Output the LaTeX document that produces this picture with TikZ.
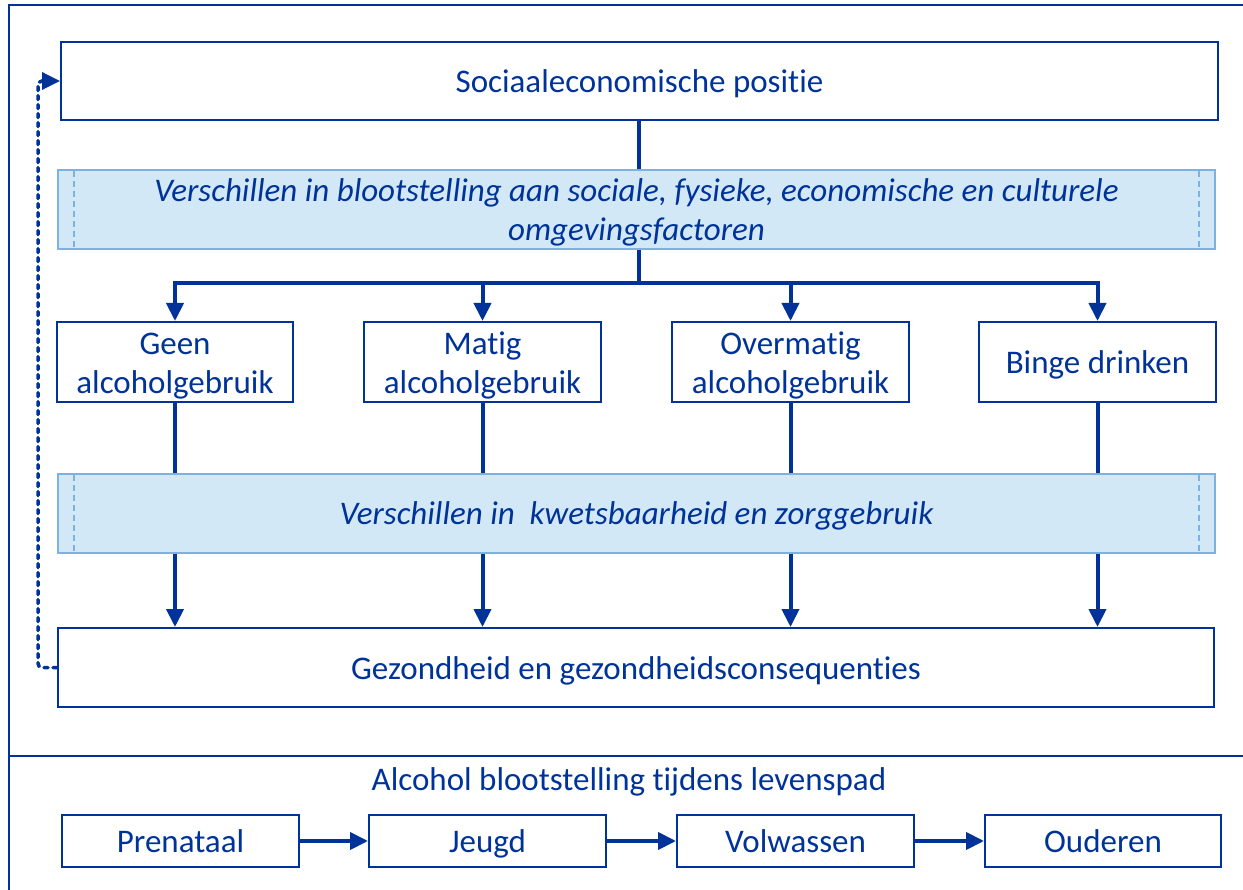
\documentclass[tikz,border=0pt]{standalone}
\usepackage{fontspec}
\setmainfont{Carlito}[Ligatures=NoCommon]
\usetikzlibrary{arrows.meta}
\definecolor{mainblue}{RGB}{0,51,153}
\definecolor{bandfill}{RGB}{210,232,246}
\definecolor{bandline}{RGB}{125,177,224}
\newcommand{\tstrut}{\rule{0pt}{29pt}}
\newcommand{\sstrut}{\rule[-6pt]{0pt}{35pt}}
\begin{document}
\begin{tikzpicture}[x=1pt,y=-1pt,
  every node/.style={font=\fontsize{33}{39}\selectfont, text=mainblue, inner sep=0pt},
  boxstyle/.style={draw=mainblue, line width=2pt, fill=white, align=center},
  bandstyle/.style={draw=bandline, line width=1.5pt, fill=bandfill, align=center, font=\fontsize{33}{39}\selectfont\itshape, minimum width=1157pt, minimum height=79pt},
  conn/.style={draw=mainblue, line width=4pt},
  arr/.style={conn, -{Triangle[length=18pt,width=17pt]}},
  inner dash/.style={draw=bandline, line width=1.5pt, dash pattern=on 6pt off 4pt},
  feedback/.style={draw=mainblue, line width=3.5pt, dash pattern=on 4pt off 5pt, line cap=round, rounded corners=4pt, -{Triangle[length=18pt,width=17pt]}}
]
\useasboundingbox (0,0) rectangle (1243,890);
\begin{scope}
\clip (0,0) rectangle (1243,890);
\draw[mainblue, line width=2pt] (9,900) -- (9,5) -- (1260,5);
\draw[mainblue, line width=2pt] (9,756) -- (1260,756);
\end{scope}

% top box
\node[boxstyle, minimum width=1157pt, minimum height=78pt] (top) at (639.5,81) {\sstrut Sociaaleconomische positie};

% band 1
\node[bandstyle] (band1) at (636.5,209.5) {\tstrut Verschillen in blootstelling aan sociale, fysieke, economische en culturele\\omgevingsfactoren};
\draw[inner dash] (74,171) -- (74,248);
\draw[inner dash] (1199,171) -- (1199,248);

% behaviour boxes
\node[boxstyle, minimum width=236pt, minimum height=80pt] (b1) at (175,362) {\tstrut Geen\\alcoholgebruik};
\node[boxstyle, minimum width=237pt, minimum height=80pt] (b2) at (482.5,362) {\tstrut Matig\\alcoholgebruik};
\node[boxstyle, minimum width=237pt, minimum height=80pt] (b3) at (790.5,362) {\tstrut Overmatig\\alcoholgebruik};
\node[boxstyle, minimum width=237pt, minimum height=80pt] (b4) at (1097.5,362) {\sstrut Binge drinken};

% band 2
\node[bandstyle] (band2) at (636.5,513.5) {\sstrut Verschillen in\ \ kwetsbaarheid en zorggebruik};
\draw[inner dash] (74,475) -- (74,552);
\draw[inner dash] (1199,475) -- (1199,552);

% bottom box
\node[boxstyle, minimum width=1156pt, minimum height=79pt] (bottom) at (636,667.5) {\sstrut Gezondheid en gezondheidsconsequenties};

% connectors top
\coordinate (bar) at (639,283);
\draw[conn] (top.south -| bar) -- (band1.north -| bar);
\draw[conn] (band1.south -| bar) -- (bar);
\foreach \b in {b1,b2,b3,b4} {
  \draw[arr] (bar) -| (\b.north);
  \draw[conn] (\b.south) -- (\b.south |- band2.north);
  \draw[arr] (\b.south |- band2.south) -- (\b.south |- bottom.north);
}

% feedback dotted
\coordinate (fb1) at (38,667.5);
\coordinate (fb2) at (38,81);
\draw[feedback] (bottom.west) -- (fb1) -- (fb2) -- (top.west);

% life course
\node (lifetitle) at (629,779) {\sstrut Alcohol blootstelling tijdens levenspad};
\node[boxstyle, minimum width=237pt, minimum height=52pt] (p1) at (180.5,841) {\sstrut Prenataal};
\node[boxstyle, minimum width=237pt, minimum height=52pt] (p2) at (487.5,841) {\sstrut Jeugd};
\node[boxstyle, minimum width=237pt, minimum height=52pt] (p3) at (795.5,841) {\sstrut Volwassen};
\node[boxstyle, minimum width=236pt, minimum height=52pt] (p4) at (1103,841) {\sstrut Ouderen};
\draw[arr] (p1) -- (p2);
\draw[arr] (p2) -- (p3);
\draw[arr] (p3) -- (p4);
\end{tikzpicture}
\end{document}
